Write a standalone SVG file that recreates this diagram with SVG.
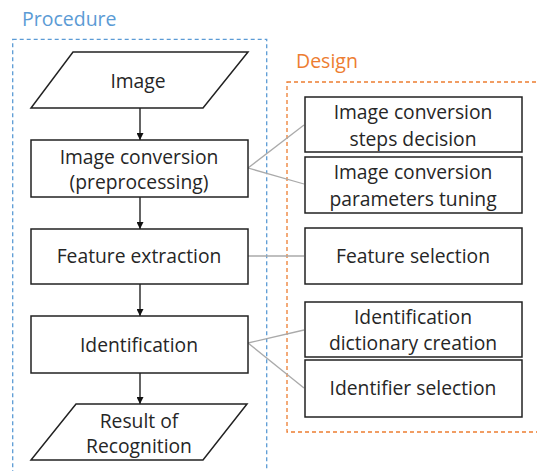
<svg xmlns="http://www.w3.org/2000/svg" width="537" height="471" viewBox="0 0 537 471">
<style>
.shape{fill:#fff;stroke:#222;stroke-width:1.5}
.t{font-family:"Open Sans","Noto Sans","DejaVu Sans",sans-serif;font-size:19.3px;fill:#262626;text-anchor:middle}
.h{font-family:"Open Sans","Noto Sans","DejaVu Sans",sans-serif;font-size:19.5px}
.flow{stroke:#111;stroke-width:1.3;fill:none;marker-end:url(#ah)}
.link{stroke:#aaaaaa;stroke-width:1.3;fill:none}
</style>
<defs>
<marker id="ah" viewBox="0 0 10 10" refX="10" refY="5" markerWidth="7" markerHeight="7" markerUnits="userSpaceOnUse" orient="auto">
<path d="M0,0 L10,5 L0,10 z" fill="#111"/>
</marker>
</defs>
<rect width="537" height="471" fill="#fff"/>
<g id="procedure-group">
<rect x="12.7" y="39.3" width="254" height="450" fill="none" stroke="#5b9bd5" stroke-width="1.3" stroke-dasharray="4,3"/>
<text class="h" x="22" y="26" fill="#5b9bd5">Procedure</text>
</g>
<g id="design-group">
<rect x="287" y="82" width="270" height="350" fill="none" stroke="#ed7d31" stroke-width="1.3" stroke-dasharray="4,3"/>
<text class="h" x="296" y="68" fill="#ed7d31">Design</text>
</g>
<g id="connectors">
<line class="flow" x1="140" y1="108" x2="140" y2="140"/>
<line class="flow" x1="140" y1="197" x2="140" y2="229"/>
<line class="flow" x1="140" y1="284" x2="140" y2="316"/>
<line class="flow" x1="140" y1="373" x2="140" y2="404"/>
<line class="link" x1="248" y1="168" x2="304" y2="125"/>
<line class="link" x1="248" y1="168" x2="304" y2="184"/>
<line class="link" x1="248" y1="256" x2="304" y2="256"/>
<line class="link" x1="248" y1="343" x2="304" y2="330"/>
<line class="link" x1="248" y1="343" x2="304" y2="388"/>
</g>
<g id="image">
<polygon class="shape" points="73,52 248,52 203,108 31,108"/>
<text class="t" x="138" y="88">Image</text>
</g>
<g id="image-conversion">
<rect class="shape" x="31" y="140" width="217" height="57"/>
<text class="t" x="139" y="164">Image conversion</text>
<text class="t" x="139" y="189">(preprocessing)</text>
</g>
<g id="feature-extraction">
<rect class="shape" x="31" y="229" width="217" height="55"/>
<text class="t" x="139" y="263">Feature extraction</text>
</g>
<g id="identification">
<rect class="shape" x="31" y="316" width="217" height="57"/>
<text class="t" x="139" y="352">Identification</text>
</g>
<g id="result">
<polygon class="shape" points="76,404 247,404 203,460 31,460"/>
<text class="t" x="139" y="428">Result of</text>
<text class="t" x="139" y="453">Recognition</text>
</g>
<g id="steps-decision">
<rect class="shape" x="305" y="97" width="217" height="55"/>
<text class="t" x="413" y="119">Image conversion</text>
<text class="t" x="413" y="146">steps decision</text>
</g>
<g id="parameters-tuning">
<rect class="shape" x="305" y="157" width="217" height="56"/>
<text class="t" x="413" y="179">Image conversion</text>
<text class="t" x="413" y="206">parameters tuning</text>
</g>
<g id="feature-selection">
<rect class="shape" x="305" y="228" width="217" height="56"/>
<text class="t" x="413" y="263">Feature selection</text>
</g>
<g id="dictionary-creation">
<rect class="shape" x="305" y="302" width="217" height="55"/>
<text class="t" x="413" y="324">Identification</text>
<text class="t" x="413" y="350">dictionary creation</text>
</g>
<g id="identifier-selection">
<rect class="shape" x="305" y="360" width="217" height="57"/>
<text class="t" x="413" y="395">Identifier selection</text>
</g>
</svg>
